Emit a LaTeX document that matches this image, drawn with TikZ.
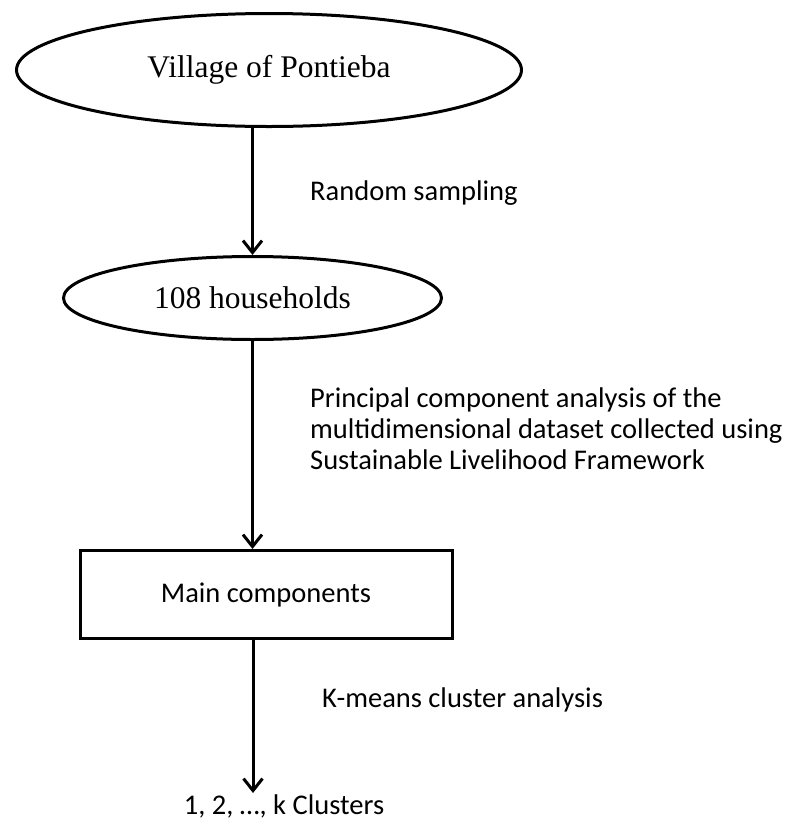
\documentclass[tikz,border=0pt]{standalone}
\usepackage{fontspec}
\setmainfont{Liberation Serif}
\newfontfamily\calfont{Carlito}
\usetikzlibrary{shapes.geometric,arrows.meta}
\tikzset{
  oval/.style={ellipse, draw, line width=3pt, inner sep=0pt, font=\fontsize{31.5}{36}\selectfont},
  stepbox/.style={rectangle, draw, line width=3pt, inner sep=0pt, font=\calfont\fontsize{28.5}{31}\selectfont},
  arr/.style={line width=3pt, -{Straight Barb[length=12pt,width=19pt,line width=3pt]}},
  lbl/.style={font=\calfont\fontsize{28.5}{31}\selectfont, inner sep=0pt, align=left}
}
\begin{document}
\begin{tikzpicture}[x=1pt,y=-1pt]
\useasboundingbox (0,0) rectangle (797,828);
\node[oval, minimum width=505pt, minimum height=113pt] (e1) at (269,70) {\raisebox{-6pt}{Village of Pontieba}};
\node[oval, minimum width=378pt, minimum height=83pt] (e2) at (252.5,298) {108 households};
\node[stepbox, minimum width=372pt, minimum height=88pt] (box) at (266,594.5) {Main components};
\coordinate (end) at (253,793);
\draw[arr] (e1.south -| e2.north) -- (e2.north);
\draw[arr] (e2.south) -- (e2.south |- box.north);
\draw[arr] (box.south -| end) -- (end);
\node[lbl, anchor=base west] (t1) at (310,200) {Random sampling};
\node[lbl, anchor=base west] (t2) at (310,469) {Principal component analysis of the\\multidimensional dataset collected using\\Sustainable Livelihood Framework};
\node[lbl, anchor=base west] (t3) at (322,707) {K-means cluster analysis};
\node[lbl, anchor=base] (t4) at (284,814) {1, 2, …, k Clusters};
\end{tikzpicture}
\end{document}
